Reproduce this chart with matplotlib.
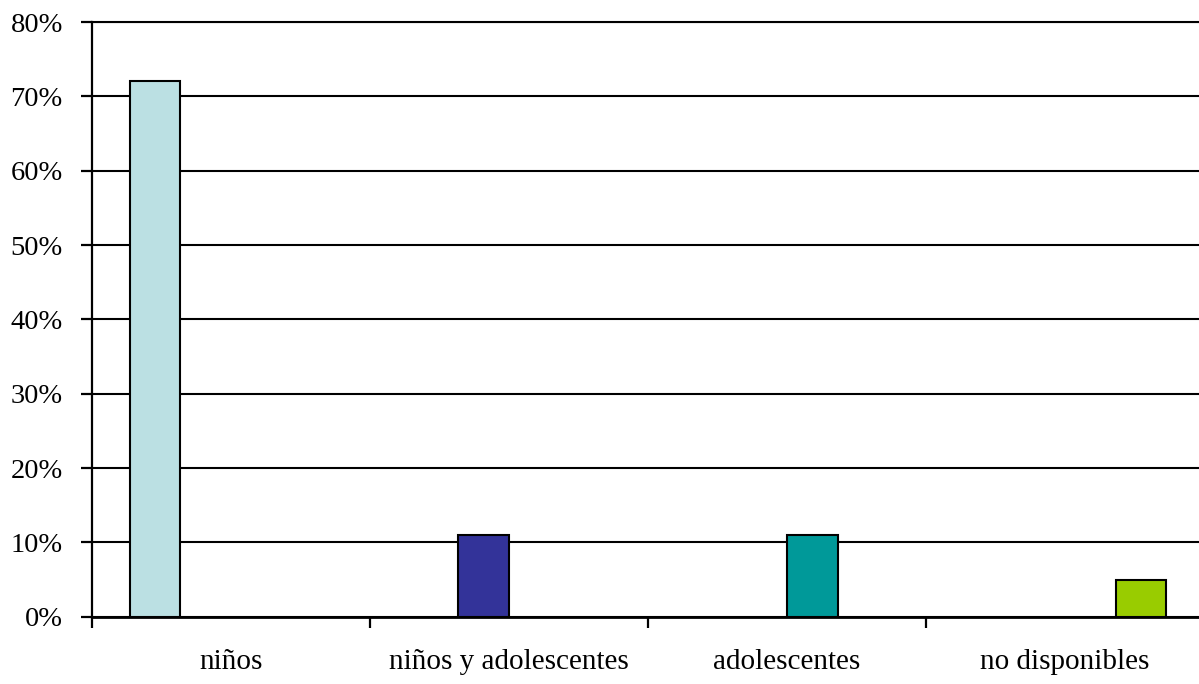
import matplotlib.pyplot as plt
import numpy as np
from matplotlib.ticker import PercentFormatter

# categorías del eje x
categorias = ["niños", "niños y adolescentes", "adolescentes", "no disponibles"]

# una serie por categoría (porcentajes), estilo Excel agrupado
serie_ninos = [72, 0, 0, 0]
serie_ninos_adol = [0, 11, 0, 0]
serie_adol = [0, 0, 11, 0]
serie_no_disp = [0, 0, 0, 5]

colores = ["#BBE0E3", "#333399", "#009999", "#99CC00"]

series = [serie_ninos, serie_ninos_adol, serie_adol, serie_no_disp]

plt.rcParams['font.family'] = ['Liberation Serif', 'DejaVu Serif']

W, H = 1199, 684
fig = plt.figure(figsize=(W / 100, H / 100), dpi=100)
x0, x1 = 92, 92 + 4 * 278
y0, y1 = 616.7, 22
ax = fig.add_axes([x0 / W, (H - y0) / H, (x1 - x0) / W, (y0 - y1) / H])

# gap width 150% -> 4 barras + 1.5 de hueco por categoría
n = len(series)
ancho = 1 / (n + 1.5)
for s, valores in enumerate(series):
    for c, v in enumerate(valores):
        if v == 0:
            continue
        ax.bar(c + (0.75 + s) * ancho, v, width=ancho, align="edge",
               color=colores[s], edgecolor="black", linewidth=1.5, zorder=3)

ax.set_xlim(0, len(categorias))
ax.set_ylim(0, 80)
ax.set_yticks(np.arange(0, 81, 10))
ax.yaxis.set_major_formatter(PercentFormatter(decimals=0))
ax.grid(axis="y", color="black", linewidth=1.5, zorder=1)

ax.set_xticks(np.arange(0, len(categorias)))
ax.set_xticklabels([])
ax.set_xticks(np.arange(len(categorias)) + 0.5, minor=True)
ax.set_xticklabels(categorias, minor=True)
ax.tick_params(axis="x", which="major", length=8, width=1.6, direction="out")
ax.tick_params(axis="x", which="minor", length=0, pad=23, labelsize=21)
ax.tick_params(axis="y", length=8, width=1.6, direction="out", pad=13, labelsize=20.5)

ax.spines["right"].set_visible(False)
# la línea del 80% hace de borde superior
ax.spines["top"].set_linewidth(1.5)
ax.spines["left"].set_linewidth(1.6)
ax.spines["bottom"].set_linewidth(2)
ax.spines["bottom"].set_zorder(4)

fig.savefig("out.png", dpi=100)
